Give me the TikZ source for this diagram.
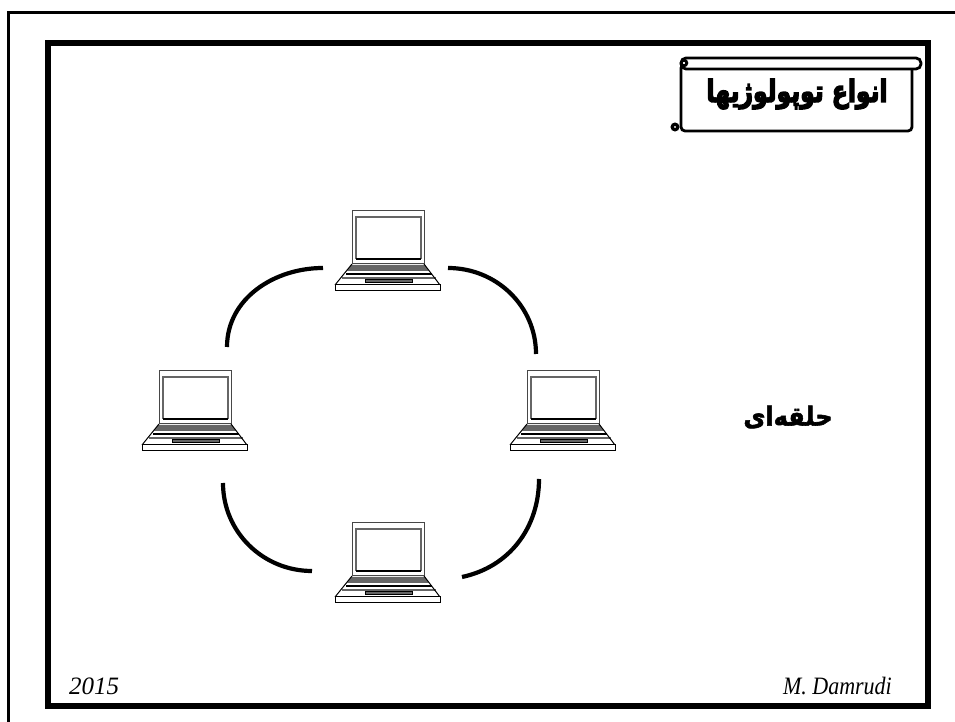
\documentclass[tikz,border=0pt]{standalone}
\usepackage{fontspec}
\setmainfont{Liberation Serif}
\newfontfamily\arabicfont[Script=Arabic]{DejaVu Sans}
\newcommand{\heavytext}[2]{\special{pdf:code q 2 Tr #1 w}#2\special{pdf:code Q}}
\TeXXeTstate=1
\definecolor{lapgray}{gray}{0.4}
\tikzset{
  laptop/.pic={
    \draw[line width=1pt,draw=lapgray!70!black] (-36,40) rectangle (36,-13);
    \draw[line width=1.3pt,draw=lapgray] (-32,-8) -- (-32,34) -- (33,34) -- (33,-8);
    \draw[line width=1.3pt] (-32,-8) -- (33,-8);
    \fill[lapgray] (-37,-14) -- (37,-14) -- (41,-20) -- (-41,-20) -- cycle;
    \draw[line width=1.6pt] (-42,-23) -- (44,-23);
    \draw[line width=1.1pt,draw=lapgray] (-46,-27) -- (48,-27);
    \draw[line width=1pt] (-36,-13) -- (-53,-34) (36,-13) -- (52,-34);
    \draw[line width=1pt,fill=white] (-53,-34) rectangle (52,-40);
    \draw[line width=.8pt,fill=lapgray] (-23,-28) rectangle (24,-31);
  }
}
\begin{document}
\begin{tikzpicture}[x=1pt,y=1pt]
  \tikzstyle{lapbox}=[minimum width=105pt,minimum height=80pt,inner sep=0pt]
  \tikzstyle{ring}=[line width=4.2pt]
  \tikzstyle{scroll}=[line width=2.8pt,fill=white,rounded corners=4pt]
  \useasboundingbox (0,0) rectangle (955,722);
  \draw[line width=3pt] (8.8,0) -- (8.8,709.5) -- (955,709.5);
  \draw[line width=6.4pt] (48,16) rectangle (928,679);
  \foreach \name/\x/\y in {top/388/471,left/195/311,right/563/311,bottom/388/159} {
    \node[lapbox] (L-\name) at (\x,\y) {};
    \pic at (L-\name) {laptop};
  }
  \foreach \name/\x/\y in {a/227/375,b/323/454,c/448/454,d/536/368,e/223/239,f/312/151,g/539/243,h/462/145}
    \coordinate (R-\name) at (\x,\y);
  \foreach \from/\to/\o/\i in {a/b/90/180,c/d/0/90,e/f/-90/180,g/h/-90/12}
    \draw[ring] (R-\from) to[out=\o,in=\i] (R-\to);
  \draw[scroll] (681,658) -- (681,591) -- (912,591) -- (912,658) -- cycle;
  \draw[scroll,rounded corners=5pt] (681,653) rectangle (921,664);
  \draw[line width=2.8pt] (684,659) circle (2.8);
  \draw[line width=3.2pt,fill=white] (675,595) circle (2.8);
  \node[font=\arabicfont\bfseries\fontsize{27}{30}\selectfont,xscale=.87,yscale=1.12] (title) at (797,628) {\heavytext{1.3}{\beginR انواع توپولوژیها\endR}};
  \node[font=\arabicfont\bfseries\fontsize{24}{26}\selectfont,yscale=1.1] (kind) at (788,305) {\heavytext{.5}{\beginR حلقه‌ای\endR}};
  \node[font=\itshape\fontsize{25}{27}\selectfont,anchor=base west,inner sep=0pt] (year) at (69,27) {2015};
  \node[font=\itshape\fontsize{25}{27}\selectfont,anchor=base east,inner sep=0pt,xscale=.88] (name) at (892,27) {M. Damrudi};
\end{tikzpicture}
\end{document}
